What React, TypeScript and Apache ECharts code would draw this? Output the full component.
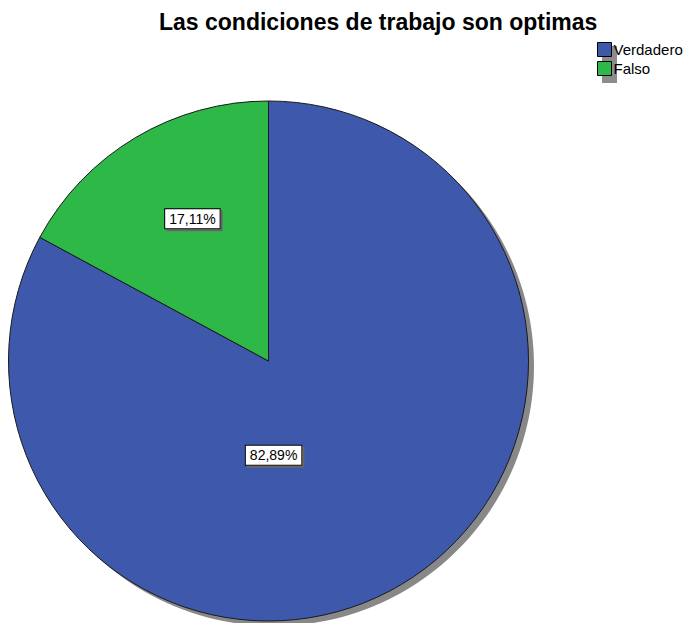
import React, { useEffect, useRef } from "react";
import * as echarts from "echarts";

const titleText = "Las condiciones de trabajo son optimas";
const categories = ["Verdadero", "Falso"];
const values = [82.89, 17.11];
const colors = ["#3e58ac", "#2eb848"];

export default function App() {
  const ref = useRef<HTMLDivElement>(null);
  useEffect(() => {
    if (!ref.current) return;
    const chart = echarts.init(ref.current, null, { renderer: "svg" });
    const labelOffsets = [
      [-63, -20],
      [-8, -28],
    ];
    const fmt = (v: number) => v.toFixed(2).replace(".", ",") + "%";
    chart.setOption({
      animation: false,
      backgroundColor: "#ffffff",
      title: {
        text: titleText,
        left: 154,
        top: 5,
        textStyle: {
          fontFamily: "Liberation Sans, Arial, sans-serif",
          fontSize: 23,
          fontWeight: "bold",
          color: "#000000",
        },
      },
      legend: {
        orient: "vertical",
        left: 592,
        top: 37,
        itemWidth: 14,
        itemHeight: 14,
        itemGap: 4,
        icon: "rect",
        selectedMode: false,
        data: categories,
        itemStyle: { borderColor: "#000000", borderWidth: 1 },
        textStyle: {
          fontFamily: "Liberation Sans, Arial, sans-serif",
          fontSize: 15,
          color: "#000000",
          padding: [0, 0, 0, -3],
        },
      },
      graphic: [
        {
          type: "rect",
          z: -1,
          shape: { x: 602, y: 46, width: 15, height: 37 },
          style: { fill: "#8c8c8c" },
        },
      ],
      series: [
        {
          type: "pie",
          silent: true,
          z: 1,
          center: [274, 366],
          radius: 260,
          startAngle: 90,
          label: { show: false },
          labelLine: { show: false },
          itemStyle: { color: "#888888" },
          data: [{ name: "shadow", value: 1 }],
          legendHoverLink: false,
        },
        {
          type: "pie",
          z: 2,
          center: [268.5, 361],
          radius: 260,
          startAngle: 90,
          clockwise: true,
          itemStyle: { borderColor: "#1a1a1a", borderWidth: 1 },
          labelLine: { show: false },
          data: categories.map((c, i) => ({
            name: c,
            value: values[i],
            itemStyle: { color: colors[i] },
            label: {
              show: true,
              position: "inside",
              offset: labelOffsets[i],
              formatter: fmt(values[i]),
              fontFamily: "Liberation Sans, Arial, sans-serif",
              fontSize: 14,
              color: "#000000",
              backgroundColor: "#ffffff",
              borderColor: "#000000",
              borderWidth: 1,
              padding: [3, 4, 2, 4],
              shadowColor: "#666666",
              shadowOffsetX: 2,
              shadowOffsetY: 2,
              shadowBlur: 0,
            },
          })),
        },
      ],
    });
    return () => chart.dispose();
  }, []);
  return (
    <div
      ref={ref}
      style={{ position: "fixed", left: 0, top: 0, width: 689, height: 623 }}
    />
  );
}
